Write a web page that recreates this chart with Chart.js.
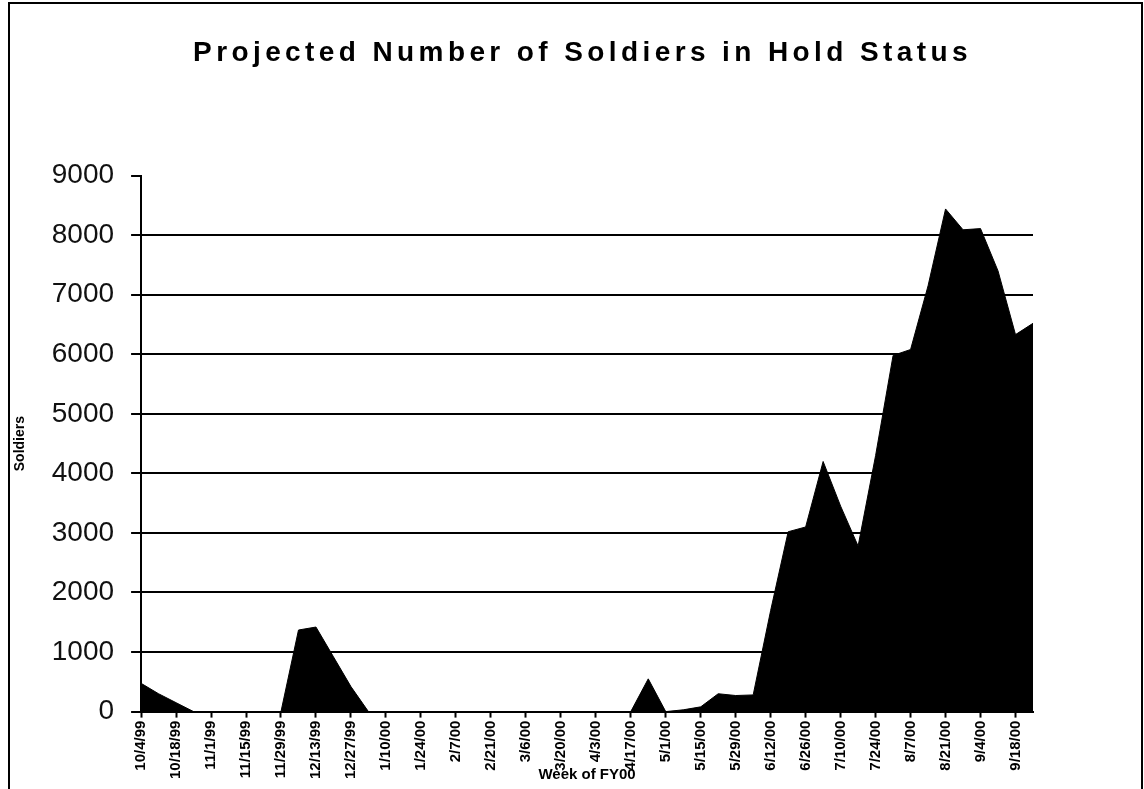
<!DOCTYPE html>
<html>
<head>
<meta charset="utf-8">
<title>Projected Number of Soldiers in Hold Status</title>
<script src="https://cdn.jsdelivr.net/npm/chart.js@4.4.0/dist/chart.umd.min.js"></script>
<style>
  html, body { margin: 0; padding: 0; background: #fff; }
  #wrap { position: relative; width: 1144px; height: 789px; overflow: hidden; }
  #frame { position: absolute; left: 8px; top: 2px; width: 1131px; height: 800px;
           border: 2px solid #000; border-bottom: none; pointer-events: none; }
  canvas { position: absolute; left: 0; top: 0; }
</style>
</head>
<body>
<div id="wrap">
  <canvas id="holdChart" width="1144" height="789"></canvas>
  <div id="frame"></div>
</div>
<script>
// week starting dates, FY00
const weeks = [
  '10/4/99', '10/11/99', '10/18/99', '10/25/99', '11/1/99', '11/8/99', '11/15/99', '11/22/99',
  '11/29/99', '12/6/99', '12/13/99', '12/20/99', '12/27/99', '1/3/00', '1/10/00', '1/17/00',
  '1/24/00', '1/31/00', '2/7/00', '2/14/00', '2/21/00', '2/28/00', '3/6/00', '3/13/00',
  '3/20/00', '3/27/00', '4/3/00', '4/10/00', '4/17/00', '4/24/00', '5/1/00', '5/8/00',
  '5/15/00', '5/22/00', '5/29/00', '6/5/00', '6/12/00', '6/19/00', '6/26/00', '7/3/00',
  '7/10/00', '7/17/00', '7/24/00', '7/31/00', '8/7/00', '8/14/00', '8/21/00', '8/28/00',
  '9/4/00', '9/11/00', '9/18/00', '9/25/00'
];

// projected soldiers in hold status
const soldiers = [
  475, 300, 150, 0, 0, 0, 0, 0,
  0, 1370, 1420, 920, 420, 0, 0, 0,
  0, 0, 0, 0, 0, 0, 0, 0,
  0, 0, 0, 0, 0, 550, 0, 30,
  80, 300, 270, 280, 1700, 3020, 3100, 4200,
  3450, 2780, 4300, 5980, 6080, 7150, 8440, 8090,
  8110, 7400, 6330, 6520
];

const yMax = 9000;
const yStep = 1000;

const FONT = "'Liberation Sans', Arial, sans-serif";
const titleShift = 64;   // title is centred on the page, not on the plot

const chart = new Chart(document.getElementById('holdChart'), {
  type: 'line',
  data: {
    labels: weeks,
    datasets: [{
      label: 'Soldiers',
      data: soldiers,
      fill: 'origin',
      backgroundColor: '#000',
      borderColor: '#000',
      borderWidth: 1,
      pointRadius: 0,
      tension: 0
    }]
  },
  options: {
    responsive: false,
    animation: false,
    layout: { padding: { left: 4, right: 111, top: 0, bottom: 5 } },
    plugins: {
      legend: { display: false },
      tooltip: { enabled: false },
      title: {
        display: true,
        text: 'Projected Number of Soldiers in Hold Status',
        color: '#000',
        font: { family: FONT, size: 28, weight: 'bold' },
        padding: { top: 36, bottom: 106 }
      }
    },
    scales: {
      x: {
        offset: false,
        border: { color: '#000', width: 2 },
        grid: {
          drawOnChartArea: false,
          drawTicks: true,
          tickLength: 6,
          tickWidth: 2,
          tickColor: c => (c.index % 2 === 0 ? '#000' : 'rgba(0,0,0,0)')
        },
        ticks: {
          autoSkip: false,
          minRotation: 90,
          maxRotation: 90,
          padding: 3,
          color: '#000',
          font: { family: FONT, size: 15, weight: 'bold' },
          callback: (v, i) => (i % 2 === 0 ? weeks[i] : '')
        },
        title: {
          display: true,
          text: 'Week of FY00',
          color: '#000',
          font: { family: FONT, size: 15, weight: 'bold' },
          padding: { top: -16, bottom: 0 }
        }
      },
      y: {
        min: 0,
        max: yMax,
        border: { color: '#000', width: 2 },
        grid: {
          color: c => (c.tick && c.tick.value === yMax ? 'rgba(0,0,0,0)' : '#000'),
          lineWidth: 2,
          tickLength: 10,
          tickColor: '#000',
          tickWidth: 2
        },
        ticks: {
          stepSize: yStep,
          padding: 17,
          color: '#111',
          font: { family: FONT, size: 28 },
          callback: v => String(v)
        },
        title: {
          display: true,
          text: 'Soldiers',
          color: '#000',
          font: { family: FONT, size: 14, weight: 'bold' },
          padding: { top: 8, bottom: 6 }
        }
      }
    }
  }
});

// spaced-out title like the original
const tb = chart.titleBlock;
const drawTitle = tb.draw.bind(tb);
tb.draw = function () {
  const ctx = chart.ctx;
  ctx.save();
  ctx.letterSpacing = '4.4px';
  ctx.translate(titleShift, 0);
  drawTitle();
  ctx.restore();
};
chart.draw();
</script>
</body>
</html>
